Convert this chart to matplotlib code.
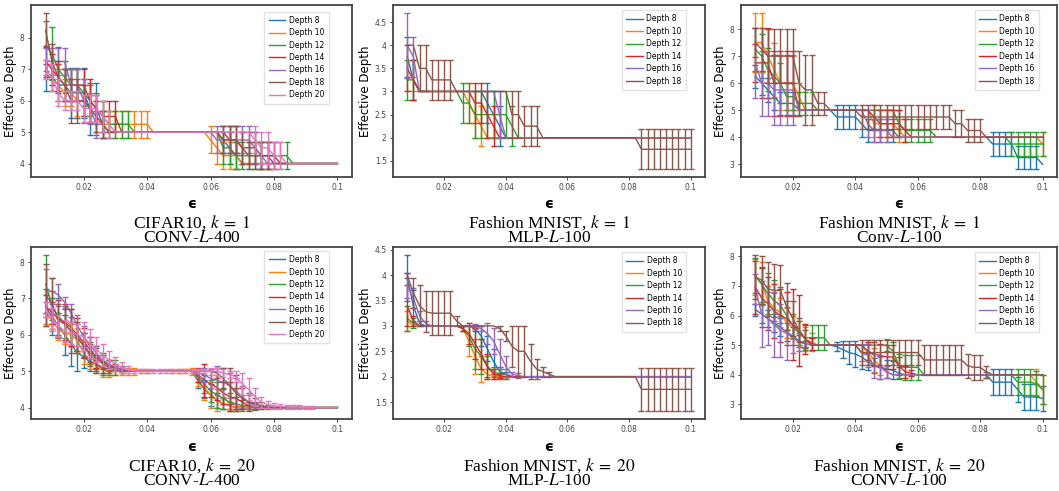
import numpy as np
import matplotlib
matplotlib.use("Agg")
import matplotlib.pyplot as plt

plt.rcParams['mathtext.fontset'] = 'stix'

# epsilon grid (x values)
eps = np.round(np.arange(0.008, 0.1001, 0.002), 3)

depth_colors = {8: '#1f77b4', 10: '#ff7f0e', 12: '#2ca02c', 14: '#d62728',
                16: '#9467bd', 18: '#8c564b', 20: '#e377c2'}

# ---------------- Panel 1: CIFAR10, k=1, CONV-L-400 ----------------
p1_mean = {
    8: [6.75,6.75,6.5,6.5,6.25,6.25,6.25,5.75,5.75,5.25] + [5.0]*18 + [4.75,4.5,4.25] + [4.0]*16,
    10: [7.0,6.75,6.5,6.25,6.25,6.0,6.0,5.75,5.5,5.25] + [5.25]*7 + [5.0]*9 + [4.75,4.5,4.25,4.25,4.25] + [4.0]*16,
    12: [7.75,7.5,7.0,6.75,6.5,6.5,6.25,6.0,5.75,5.5] + [5.25]*4 + [5.0]*14 + [4.5,4.5,4.25] + [4.25]*8 + [4.0]*8,
    14: [7.25,7.0,6.75,6.5,6.5,6.5,6.5,6.0,5.75,5.5,5.5,5.5] + [5.0]*17 + [4.75,4.75,4.5,4.5,4.5] + [4.25]*3 + [4.0]*10,
    16: [7.25,7.25,7.25,7.25,6.5,6.5,6.0,5.75,5.25,5.25] + [5.0]*17 + [4.75]*6 + [4.5,4.25] + [4.0]*12,
    18: [8.25,7.25,6.75,6.5,6.0,6.0,6.0,5.75,5.5,5.25] + [5.0]*18 + [4.75,4.75,4.75,4.5] + [4.25]*4 + [4.0]*11,
    20: [7.0,6.75,6.25,6.0,6.0,6.0,5.75,5.75,5.75,5.5,5.25] + [5.0]*22 + [4.75,4.5,4.5,4.25,4.25] + [4.0]*9,
}
p1_std = {
    8: [0.43,0.43,0.5,0.5,0.8,0.8,0.8,0.83,0.83,0.43] + [0]*18 + [0.43,0.5,0.43] + [0]*16,
    10: [0.3,0.43,0.5,0.43,0.43,0.5,0.5,0.43,0.5,0.43] + [0.43]*7 + [0]*9 + [0.43,0.5,0.43,0.43,0.43] + [0]*16,
    12: [0.8,0.85,0.7,0.5,0.5,0.5,0.43,0.5,0.5,0.5] + [0.43]*4 + [0]*14 + [0.5,0.5,0.43] + [0.43]*8 + [0]*8,
    14: [0.5,0.5,0.43,0.5,0.5,0.5,0.5,0.7,0.43,0.5,0.5,0.5] + [0]*17 + [0.43,0.43,0.5,0.5,0.5] + [0.43]*3 + [0]*10,
    16: [0.43,0.43,0.43,0.43,0.5,0.5,0.7,0.5,0.43,0.43] + [0]*17 + [0.43]*6 + [0.5,0.43] + [0]*12,
    18: [0.55,0.55,0.5,0.5,0.7,0.7,0.5,0.43,0.5,0.43] + [0]*18 + [0.43,0.43,0.43,0.5] + [0.43]*4 + [0]*11,
    20: [0.3,0.43,0.43,0.3,0.3,0.3,0.43,0.43,0.43,0.5,0.43] + [0]*22 + [0.43,0.5,0.5,0.43,0.43] + [0]*9,
}

# ---------------- Panel 2: Fashion MNIST, k=1, MLP-L-100 ----------------
p2_mean = {
    8: [3.75,3.25] + [3.0]*11 + [2.75,2.5,2.25] + [2.0]*31,
    10: [3.0]*10 + [2.75,2.5,2.25] + [2.0]*34,
    12: [3.25,3.25] + [3.0]*7 + [2.75,2.75] + [2.5]*6 + [2.25] + [2.0]*29,
    14: [3.5,3.25] + [3.0]*9 + [2.75,2.75,2.5,2.25] + [2.0]*32,
    16: [4.0,3.75] + [3.0]*13 + [2.5] + [2.0]*31,
    18: [4.0,4.0,3.5,3.5,3.25,3.25,3.25,3.25] + [3.0]*9 + [2.5,2.5,2.25,2.25,2.25] + [2.0]*16 + [1.75]*9,
}
p2_std = {
    8: [0.43,0.43] + [0]*11 + [0.43,0.5,0.43] + [0]*31,
    10: [0]*10 + [0.43,0.5,0.43] + [0]*34,
    12: [0.43,0.43] + [0]*7 + [0.43,0.43] + [0.5]*6 + [0.43] + [0]*29,
    14: [0.5,0.43] + [0]*9 + [0.43,0.43,0.5,0.43] + [0]*32,
    16: [0.7,0.43] + [0]*13 + [0.5] + [0]*31,
    18: [0,0,0.5,0.5,0.43,0.43,0.43,0.43] + [0]*9 + [0.5,0.5,0.43,0.43,0.43] + [0]*16 + [0.43]*9,
}

# ---------------- Panel 3: Fashion MNIST, k=1, Conv-L-100 ----------------
p3_mean = {
    8: [6.25,6.0,5.75,5.5,5.25,5.25,5.25] + [5.0]*6 + [4.75]*4 + [4.5] + [4.25]*5 + [4.0]*15 + [3.75]*4 + [3.25]*4 + [3.0],
    10: [7.5,7.5,7.0,6.5,6.0,6.0,6.0,5.5] + [5.0]*11 + [4.5]*4 + [4.25] + [4.0]*22 + [3.75],
    12: [7.25,7.0,6.5,6.25,6.0,5.5,5.5] + [5.25]*3 + [5.0]*13 + [4.5] + [4.25]*5 + [4.0]*12 + [3.75]*6,
    14: [6.75,6.75,6.75,6.0,6.0,6.0,6.0] + [5.0]*12 + [4.75] + [4.5]*4 + [4.25] + [4.0]*22,
    16: [6.75,6.0,6.0,5.75,5.75,5.75,5.75] + [5.0]*11 + [4.5] + [4.25]*3 + [4.0]*25,
    18: [7.5,7.25,7.0,7.0,7.0,7.0,7.0,6.0,5.75,5.75,5.25,5.25] + [5.0]*5 + [4.75]*15 + [4.5,4.5] + [4.25]*3 + [4.0]*10,
}
p3_std = {
    8: [0.43,0.43,0.43,0.5,0.43,0.43,0.43] + [0]*6 + [0.43]*4 + [0.5] + [0.43]*5 + [0]*15 + [0.43]*4 + [0.43]*4 + [0],
    10: [1.1,1.1,1.0,1.0,1.0,1.0,1.0,0.5] + [0]*11 + [0.5]*4 + [0.43] + [0]*22 + [0.43],
    12: [0.8,0.8,0.8,0.8,0.75,0.5,0.5] + [0.43]*3 + [0]*13 + [0.5] + [0.43]*5 + [0]*12 + [0.43]*6,
    14: [0.7,1.3,1.3,1.2,1.2,1.2,1.2] + [0]*12 + [0.43] + [0.5]*4 + [0.43] + [0]*22,
    16: [1.3,1.2,1.2,1.3,1.3,1.3,1.3] + [0]*11 + [0.5] + [0.43]*3 + [0]*25,
    18: [0.55,0.8,1.0,1.0,1.0,1.0,1.0,1.2,1.3,1.3,0.43,0.43] + [0]*5 + [0.43]*15 + [0.5,0.5] + [0.43]*3 + [0]*10,
}

# ---------------- Panel 4: CIFAR10, k=20, CONV-L-400 ----------------
p4_mean = {
    8: [6.75,6.5,6.25,6.0,5.75,5.5,5.4,5.25,5.2,5.05] + [5.0]*14 + [4.75,4.5,4.35,4.2,4.1,4.05] + [4.0]*17,
    10: [6.6,6.4,6.15,6.05,6.0,5.85,5.5,5.3,5.15,5.05] + [5.0]*14 + [4.8,4.55,4.35,4.2,4.1,4.05] + [4.0]*17,
    12: [7.4,6.8,6.5,6.3,6.1,5.9,5.7,5.5,5.35,5.2,5.1,5.1,5.05] + [5.0]*11 + [4.85,4.65,4.45,4.35,4.25,4.15,4.1,4.05,4.05,4.03,4.02,4.01] + [4.0]*11,
    14: [6.8,6.6,6.45,6.35,6.2,6.0,5.8,5.6,5.4,5.25,5.15,5.1,5.05] + [5.0]*11 + [4.9,4.75,4.65,4.55,4.4,4.3,4.25,4.15,4.05] + [4.0]*14,
    16: [7.2,7.2,7.1,6.9,6.6,6.25,5.95,5.7,5.5,5.3,5.2,5.1,5.05] + [5.0]*11 + [4.95,4.9,4.8,4.75,4.7,4.6,4.45,4.3,4.15,4.05] + [4.0]*13,
    18: [7.1,6.85,6.4,6.3,6.1,5.95,5.7,5.45,5.2,5.1,5.05] + [5.0]*16 + [4.95,4.8,4.6,4.4,4.25,4.15,4.1,4.05] + [4.0]*12,
    20: [6.7,6.45,6.25,6.1,6.05,6.0,5.95,5.75,5.6,5.45,5.3,5.2,5.1,5.05] + [5.0]*12 + [5.0,5.0,4.95,4.9,4.85,4.65,4.5,4.3,4.15,4.08,4.05,4.03,4.02,4.01,4.01,4.0,4.0] + [4.0]*4,
}
p4_std = {
    8: [0.5,0.5,0.35,0.55,0.6,0.5,0.3,0.25,0.2,0.1] + [0]*14 + [0.2,0.25,0.3,0.2,0.15,0.1] + [0]*17,
    10: [0.3,0.3,0.3,0.3,0.3,0.35,0.3,0.25,0.2,0.2] + [0.15,0.1,0.1,0.1,0.1,0.05,0.05,0,0,0,0.05,0.05,0.05,0.1] + [0.2,0.35,0.35,0.3,0.15,0.1] + [0.05]*3 + [0]*14,
    12: [0.8,0.4,0.5,0.4,0.4,0.4,0.35,0.3,0.3,0.3,0.2,0.2,0.1] + [0]*11 + [0.15,0.25,0.3,0.35,0.3,0.25,0.2,0.15,0.1,0.1,0.05,0.05] + [0]*11,
    14: [0.3,0.3,0.5,0.5,0.5,0.45,0.4,0.35,0.3,0.2,0.15,0.1,0.05] + [0]*11 + [0.2,0.45,0.35,0.35,0.3,0.4,0.3,0.2,0.1] + [0]*14,
    16: [0.6,0.35,0.3,0.15,0.25,0.3,0.3,0.25,0.2,0.15,0.1,0.05,0.05] + [0]*11 + [0.1,0.2,0.25,0.4,0.4,0.35,0.35,0.3,0.2,0.1] + [0]*13,
    18: [0.85,0.7,0.45,0.5,0.6,0.4,0.35,0.3,0.25,0.15,0.1] + [0]*16 + [0.15,0.3,0.5,0.5,0.3,0.25,0.15,0.1] + [0]*12,
    20: [0.2,0.3,0.3,0.3,0.3,0.3,0.4,0.4,0.35,0.3,0.25,0.2,0.15,0.1] + [0.05]*12 + [0.1,0.1,0.1,0.1,0.15,0.3,0.3,0.25,0.15,0.1,0.08,0.08,0.06,0.05,0.05,0.03,0.03] + [0]*4,
}

# ---------------- Panel 5: Fashion MNIST, k=20, MLP-L-100 ----------------
p5_mean = {
    8: [3.95,3.4,3.05] + [3.0]*8 + [2.95,2.8,2.55,2.3,2.1,2.05] + [2.0]*30,
    10: [3.1] + [3.0]*8 + [2.95,2.7,2.4,2.15,2.05] + [2.0]*33,
    12: [3.15,3.05] + [3.0]*7 + [2.95,2.8,2.55,2.4,2.2,2.1,2.05,2.05] + [2.0]*30,
    14: [3.4,3.1] + [3.0]*7 + [2.95,2.85,2.65,2.45,2.2,2.05,2.02] + [2.0]*31,
    16: [3.8,3.55,3.2,3.05] + [3.0]*7 + [2.98,2.95,2.85,2.7,2.45,2.2,2.05,2.02] + [2.0]*28,
    18: [4.0,3.65,3.4,3.28,3.25,3.25,3.25,3.25,3.1] + [3.0]*6 + [2.95,2.8,2.6,2.5,2.5,2.3,2.15,2.1,2.05] + [2.0]*14 + [1.75]*9,
}
p5_std = {
    8: [0.45,0.3,0.05] + [0]*8 + [0.05,0.2,0.25,0.25,0.1,0.05] + [0]*30,
    10: [0.2] + [0]*8 + [0.05,0.3,0.35,0.25,0.1] + [0.05]*3 + [0]*30,
    12: [0.25,0.1] + [0]*7 + [0.05,0.2,0.4,0.35,0.2,0.1,0.1,0.1] + [0]*30,
    14: [0.4,0.1] + [0]*7 + [0.05,0.2,0.3,0.3,0.25,0.1,0.05] + [0]*31,
    16: [0.25,0.2,0.1,0.05] + [0]*7 + [0.05,0.05,0.2,0.25,0.3,0.2,0.05,0.05] + [0]*28,
    18: [0.05,0.3,0.4,0.4,0.43,0.43,0.43,0.43,0.1] + [0]*6 + [0.05,0.1,0.4,0.5,0.5,0.35,0.2,0.1,0.05] + [0]*14 + [0.43]*9,
}

# ---------------- Panel 6: Fashion MNIST, k=20, CONV-L-100 ----------------
p6_mean = {
    8: [6.2,6.05,5.9,5.75,5.6,5.45,5.3,5.15,5.05] + [5.0]*4 + [4.95,4.85,4.75,4.7,4.6,4.45,4.3,4.25,4.2,4.15,4.05] + [4.0]*14 + [3.75]*4 + [3.5,3.25,3.25,3.25,3.2],
    10: [7.3,7.1,6.5,6.25,6.1,5.75,5.6,5.4,5.2,5.1] + [5.0]*8 + [4.75,4.5,4.3,4.1] + [4.0]*23 + [3.75,3.5],
    12: [7.35,7.05,6.75,6.5,6.35,6.0,5.65,5.4,5.25] + [5.25]*3 + [5.0]*10 + [4.8,4.3,4.25,4.25,4.25] + [4.0]*15 + [3.75,3.75,3.75,3.7,3.5],
    14: [6.95,6.6,6.4,6.15,6.0,5.9,5.7,5.5,5.2,5.05] + [5.0]*8 + [4.8,4.7,4.65,4.6,4.6,4.3,4.1,4.05] + [4.0]*21,
    16: [6.9,6.05,5.9,5.7,5.5,5.4,5.25,5.1,5.05] + [5.0]*8 + [4.75,4.65,4.3,4.25,4.1] + [4.0]*25,
    18: [7.3,7.2,6.9,6.85,6.85,6.3,5.9,5.5,5.2] + [5.0]*8 + [4.75]*10 + [4.5]*7 + [4.3,4.25,4.25,4.1] + [4.0]*9,
}
p6_std = {
    8: [0.2,0.3,0.3,0.3,0.3,0.3,0.3,0.2,0.1] + [0]*4 + [0.15,0.3,0.4,0.45,0.4,0.3,0.25,0.4,0.3,0.3,0.2] + [0]*13 + [0.1] + [0.43]*4 + [0.43]*5,
    10: [0.6,0.7,0.5,0.5,0.5,0.5,0.4,0.4,0.4,0.3] + [0]*8 + [0.3,0.4,0.3,0.2] + [0]*23 + [0.43,0.5],
    12: [0.6,0.6,0.7,0.7,0.6,0.5,0.4,0.4,0.43] + [0.43]*3 + [0]*9 + [0.2] + [0.3,0.4,0.43,0.43,0.43] + [0]*15 + [0.43,0.43,0.43,0.43,0.5],
    14: [0.9,1.0,0.9,0.9,0.9,0.9,1.2,1.2,0.5,0.2] + [0]*8 + [0.3,0.4,0.4,0.4,0.4,0.3,0.2,0.1] + [0]*21,
    16: [0.5,1.1,0.9,1.1,0.9,0.9,0.5,0.3,0.1] + [0]*8 + [0.3,0.4,0.4,0.4,0.2] + [0]*25,
    18: [0.75,0.8,0.9,0.9,0.85,0.8,0.6,0.4,0.3] + [0]*8 + [0.43]*10 + [0.5]*7 + [0.4,0.43,0.43,0.2] + [0]*9,
}

xticks = [0.02, 0.04, 0.06, 0.08, 0.1]
xtick_labels = ['0.02', '0.04', '0.06', '0.08', '0.1']
yticks_a = [4, 5, 6, 7, 8]
yticks_b = [1.5, 2, 2.5, 3, 3.5, 4, 4.5]
ytick_labels_b = ['1.5', '2', '2.5', '3', '3.5', '4', '4.5']
yticks_c = [3, 4, 5, 6, 7, 8]

titles = [
    "CIFAR10, $k\\;=\\;1$\nCONV-$L$-400",
    "Fashion MNIST, $k\\;=\\;1$\nMLP-$L$-100",
    "Fashion MNIST, $k\\;=\\;1$\nConv-$L$-100",
    "CIFAR10, $k\\;=\\;20$\nCONV-$L$-400",
    "Fashion MNIST, $k\\;=\\;20$\nMLP-$L$-100",
    "Fashion MNIST, $k\\;=\\;20$\nCONV-$L$-100",
]
panels = [
    (p1_mean, p1_std, yticks_a, None),
    (p2_mean, p2_std, yticks_b, ytick_labels_b),
    (p3_mean, p3_std, yticks_c, None),
    (p4_mean, p4_std, yticks_a, None),
    (p5_mean, p5_std, yticks_b, ytick_labels_b),
    (p6_mean, p6_std, yticks_c, None),
]

W, H = 1059, 491
fig = plt.figure(figsize=(W / 100, H / 100), dpi=100)

cols = [(31, 352), (393, 705), (741, 1057)]
rows = [(5, 177), (247, 419)]
legend_anchor = [(0.928, 0.962), (0.939, 0.97), (0.943, 0.97),
                 (0.928, 0.977), (0.94, 0.971), (0.943, 0.971)]
eps_y = [204, 447]
title_y = [230, 473]

for idx, (mean, std, yt, ytl) in enumerate(panels):
    r, c = divmod(idx, 3)
    x0, x1 = cols[c]
    y0, y1 = rows[r]
    ax = fig.add_axes([x0 / W, 1 - y1 / H, (x1 - x0) / W, (y1 - y0) / H])
    for d in mean:
        m = np.array(mean[d], dtype=float)
        s = np.array(std[d], dtype=float)
        col = depth_colors[d]
        ax.plot(eps, m, color=col, lw=1.0, label=f'Depth {d}')
        mask = s > 0
        ax.errorbar(eps[mask], m[mask], yerr=s[mask], fmt='none', ecolor=col,
                    elinewidth=1.0, capsize=2, capthick=1.0)
    ax.set_xticks(xticks)
    ax.set_xticklabels(xtick_labels)
    ax.set_yticks(yt)
    if ytl is not None:
        ax.set_yticklabels(ytl)
    ax.tick_params(labelsize=5.5, length=2.5, width=0.7, colors='#444444', pad=2)
    for sp in ax.spines.values():
        sp.set_color('#444444')
        sp.set_linewidth(1.3)
    ax.set_ylabel('Effective Depth', fontsize=8.5, labelpad=2)
    ax.legend(loc='upper right', bbox_to_anchor=legend_anchor[idx], borderaxespad=0,
              fontsize=5.5, labelspacing=0.45, handlelength=2.2, handletextpad=0.5,
              borderpad=0.55, framealpha=0.8, edgecolor='#dddddd', fancybox=False)
    cx = (x0 + x1) / 2 / W
    fig.text(cx, 1 - eps_y[r] / H, '\u03f5', ha='center', va='center',
             fontsize=10, fontweight='bold', family='DejaVu Sans')
    fig.text(cx, 1 - title_y[r] / H, titles[idx], ha='center', va='center',
             fontsize=12.5, family='Liberation Serif', linespacing=0.85,
             multialignment='center')

fig.savefig('out.png', dpi=100)
